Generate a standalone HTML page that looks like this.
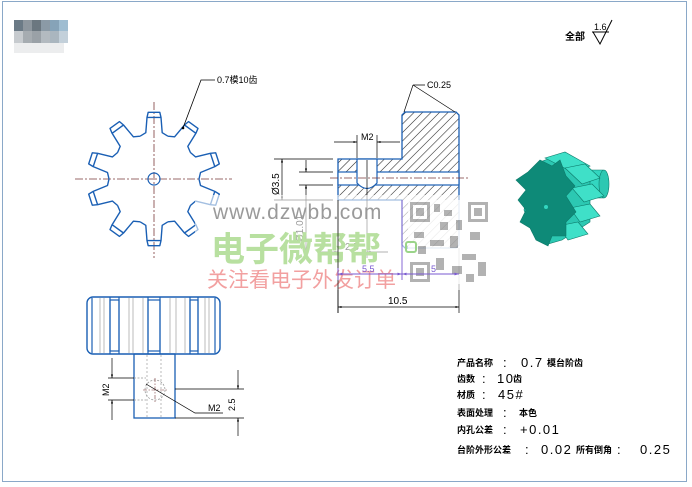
<!DOCTYPE html>
<html><head><meta charset="utf-8"><style>
html,body{margin:0;padding:0;background:#fff;}
svg{display:block;}
.t{font-family:"Liberation Sans","Noto Sans CJK SC",sans-serif;}
</style></head><body>
<svg id="s" width="692" height="487" viewBox="0 0 692 487" xmlns="http://www.w3.org/2000/svg">
<defs>
<pattern id="h" width="6" height="6" patternUnits="userSpaceOnUse" patternTransform="rotate(45)">
<line x1="0" y1="0" x2="0" y2="6" stroke="#222" stroke-width="1.1"/>
</pattern>
<marker id="a" viewBox="0 0 10 10" refX="10" refY="5" markerWidth="7" markerHeight="5" orient="auto-start-reverse"><path d="M0,2 L10,5 L0,8z" fill="#000"/></marker>
<marker id="ap" viewBox="0 0 10 10" refX="10" refY="5" markerWidth="7" markerHeight="5" orient="auto-start-reverse"><path d="M0,2 L10,5 L0,8z" fill="#7a5ad0"/></marker>
</defs>
<rect x="0" y="0" width="692" height="487" fill="#fff"/>
<rect x="2.5" y="1.5" width="684" height="480" fill="none" stroke="#8aa8c8" stroke-width="1"/>
<g>
<rect x="14" y="20" width="9" height="11" fill="#6b7a86"/><rect x="23" y="20" width="9" height="11" fill="#8d969e"/><rect x="32" y="20" width="9" height="11" fill="#6b7780"/><rect x="41" y="20" width="9" height="11" fill="#8b9aa6"/><rect x="50" y="20" width="9" height="11" fill="#86a3b8"/><rect x="59" y="20" width="9" height="11" fill="#9fbdd1"/>
<rect x="14" y="31" width="9" height="12" fill="#c7cbcf"/><rect x="23" y="31" width="9" height="12" fill="#a6acb1"/><rect x="32" y="31" width="9" height="12" fill="#9aa1a7"/><rect x="41" y="31" width="9" height="12" fill="#b3bac0"/><rect x="50" y="31" width="9" height="12" fill="#aab6bf"/><rect x="59" y="31" width="9" height="12" fill="#c3d0da"/>
<rect x="14" y="43" width="50" height="10" fill="#ecedee"/>
</g>
<text x="565" y="40" class="t" font-size="10" font-weight="bold">全部</text>
<text x="594" y="30" class="t" font-size="9">1.6</text>
<path d="M592,32 L609,32 M593,32 L600,44 L612,20" fill="none" stroke="#000" stroke-width="1"/>

<g stroke="#7a3a3a" stroke-width="0.8" stroke-dasharray="8,2,2,2" fill="none">
<line x1="75" y1="179" x2="232" y2="179"/><line x1="154" y1="102" x2="154" y2="258"/>
</g>
<path id="gear" fill="none" stroke="#1a5fb4" stroke-width="1.4" stroke-linejoin="round"/>
<circle cx="154" cy="179" r="6" fill="none" stroke="#1a5fb4" stroke-width="1.2"/>
<path d="M183,128 L201,80 L215,80" fill="none" stroke="#000" stroke-width="0.8"/>
<circle cx="183" cy="128" r="1.3" fill="#000"/>
<text x="217" y="83" class="t" font-size="9">0.7模10齿</text>

<path d="M338,159 L402,159 L402,115 L405,112 L456,112 L459,115 L459,245 L456,248 L405,248 L402,245 L402,200 L338,200 Z" fill="url(#h)" stroke="#1a5fb4" stroke-width="1.3"/>
<rect x="338" y="172" width="121" height="13" fill="#fff" stroke="#1a5fb4" stroke-width="1.2"/>
<path d="M357,159 L357,183 Q367,194 377,183 L377,159 Z" fill="#fff" stroke="#1a5fb4" stroke-width="1.2"/>
<line x1="330" y1="178" x2="468" y2="178" stroke="#7a3a3a" stroke-width="0.7" stroke-dasharray="8,2,2,2"/>
<line x1="367" y1="160" x2="367" y2="258" stroke="#000" stroke-width="0.7"/>
<g stroke="#000" stroke-width="0.7" fill="none">
<line x1="357" y1="135" x2="357" y2="158"/><line x1="377" y1="135" x2="377" y2="158"/>
<line x1="334" y1="142" x2="357" y2="142" marker-end="url(#a)"/><line x1="400" y1="142" x2="377" y2="142" marker-end="url(#a)"/>
<line x1="274" y1="159" x2="333" y2="159"/><line x1="274" y1="200" x2="333" y2="200"/>
<line x1="282" y1="159" x2="282" y2="200" marker-start="url(#a)" marker-end="url(#a)"/>
<line x1="299" y1="172" x2="333" y2="172"/><line x1="299" y1="185" x2="333" y2="185"/>
<line x1="306" y1="160" x2="306" y2="172" marker-end="url(#a)"/><line x1="306" y1="252" x2="306" y2="185" marker-end="url(#a)"/>
<line x1="338" y1="200" x2="338" y2="313"/><line x1="459" y1="248" x2="459" y2="313"/>
<line x1="317" y1="252" x2="338" y2="252" marker-end="url(#a)"/><line x1="388" y1="252" x2="367" y2="252" marker-end="url(#a)"/>
<line x1="338" y1="307" x2="459" y2="307" marker-start="url(#a)" marker-end="url(#a)"/>
<path d="M413,85 L404,112 M413,85 L455,112 M413,85 L425,85" />
</g>
<text x="427" y="88" class="t" font-size="9">C0.25</text>
<text x="361" y="140" class="t" font-size="9">M2</text>
<text x="345" y="250" class="t" font-size="10">2.5</text>
<text x="388" y="304" class="t" font-size="10">10.5</text>
<text transform="translate(279,195) rotate(-90)" class="t" font-size="10">Ø3.5</text>
<text transform="translate(303,242) rotate(-90)" class="t" font-size="10">Ø1.01</text>

<rect x="195" y="195" width="305" height="95" fill="#fff" opacity="0.6"/>
<g opacity="0.75">
<rect x="408" y="200" width="82" height="84" fill="#fff"/>
<g fill="#999">
<rect x="410" y="202" width="20" height="20"/><rect x="468" y="202" width="20" height="20"/><rect x="410" y="262" width="20" height="20"/>
<rect x="434" y="204" width="6" height="8"/><rect x="444" y="210" width="8" height="6"/><rect x="456" y="220" width="6" height="10"/><rect x="414" y="232" width="10" height="6"/><rect x="430" y="240" width="14" height="6"/><rect x="450" y="236" width="8" height="12"/><rect x="470" y="232" width="10" height="8"/><rect x="462" y="254" width="14" height="6"/><rect x="436" y="258" width="8" height="12"/><rect x="452" y="266" width="10" height="8"/><rect x="478" y="262" width="8" height="14"/><rect x="418" y="246" width="8" height="8"/><rect x="466" y="274" width="8" height="8"/><rect x="440" y="222" width="8" height="8"/>
</g>
<g fill="#fff"><rect x="413" y="205" width="14" height="14"/><rect x="471" y="205" width="14" height="14"/><rect x="413" y="265" width="14" height="14"/></g>
<g fill="#999"><rect x="416" y="208" width="8" height="8"/><rect x="474" y="208" width="8" height="8"/><rect x="416" y="268" width="8" height="8"/></g>
</g>
<text x="213" y="219" class="t" font-size="21" fill="#9a9a9a" letter-spacing="1">www.dzwbb.com</text>
<text x="211" y="261" class="t" font-size="34" fill="#b8e0a0" font-weight="bold">电子微帮帮</text>
<text x="207" y="287" class="t" font-size="21" fill="#f2a0a0">关注看电子外发订单</text>
<rect x="406" y="242" width="10" height="10" fill="none" stroke="#9bd48a" stroke-width="2" rx="2"/>
<line x1="338" y1="200" x2="338" y2="313" stroke="#000" stroke-width="0.7"/>
<line x1="338" y1="274" x2="402" y2="274" stroke="#7a5ad0" stroke-width="0.9" marker-start="url(#ap)" marker-end="url(#ap)"/>
<line x1="402" y1="274" x2="459" y2="274" stroke="#7a5ad0" stroke-width="0.9" marker-start="url(#ap)" marker-end="url(#ap)"/>
<line x1="402" y1="200" x2="402" y2="280" stroke="#7a5ad0" stroke-width="0.9"/>
<line x1="338" y1="268" x2="338" y2="280" stroke="#7a5ad0" stroke-width="0.9"/>
<text x="362" y="272" class="t" font-size="9" fill="#7a5ad0">5.5</text>
<text x="431" y="272" class="t" font-size="9" fill="#7a5ad0">5</text>

<g stroke="#0d7a6a" stroke-width="0.6">
<rect x="585" y="170" width="22" height="28" rx="4" fill="#33d6c0"/>
<ellipse cx="604" cy="184" rx="5" ry="14" fill="#2cc8b2"/>
<path d="M540,162 L556,156 L584,168 L590,178 L590,222 L562,240 L548,244 L532,232 L524,210 L530,180 Z" fill="#2cc8b2"/>
<g fill="#3fe0c8">
<path d="M545,158 L565,152 L590,166 L572,172 Z"/>
<path d="M565,168 L585,164 L600,178 L582,184 Z"/>
<path d="M572,188 L592,184 L604,196 L584,202 Z"/>
<path d="M570,208 L590,204 L600,216 L580,222 Z"/>
<path d="M558,226 L578,222 L588,234 L568,240 Z"/>
</g>
<path d="M528,172 L540,160 L552,166 L560,160 L566,176 L575,186 L566,196 L576,212 L566,222 L566,236 L552,236 L548,246 L536,240 L530,228 L520,222 L526,210 L518,200 L526,190 L516,180 Z" fill="#0e8a78"/>
<circle cx="546" cy="207" r="2" fill="#33d6c0" stroke="none"/>
</g>

<rect x="87" y="297" width="133" height="57" rx="6" fill="#fff" stroke="#1a5fb4" stroke-width="1.4"/>
<g stroke="#1a5fb4" stroke-width="1.2" fill="none">
<line x1="92" y1="298" x2="92" y2="353"/><line x1="215" y1="298" x2="215" y2="353"/>
<rect x="110" y="300" width="9" height="51"/><rect x="148" y="300" width="12" height="51"/><rect x="190" y="300" width="8" height="51"/>
<line x1="110" y1="297" x2="110" y2="354"/><line x1="119" y1="297" x2="119" y2="354"/><line x1="148" y1="297" x2="148" y2="354"/><line x1="160" y1="297" x2="160" y2="354"/><line x1="190" y1="297" x2="190" y2="354"/><line x1="198" y1="297" x2="198" y2="354"/>
</g>
<g stroke="#aaa" stroke-width="0.8">
<line x1="100" y1="298" x2="100" y2="353"/><line x1="104" y1="298" x2="104" y2="353"/><line x1="129" y1="298" x2="129" y2="353"/><line x1="133" y1="298" x2="133" y2="353"/><line x1="143" y1="298" x2="143" y2="353"/><line x1="170" y1="298" x2="170" y2="353"/><line x1="176" y1="298" x2="176" y2="353"/><line x1="185" y1="298" x2="185" y2="353"/><line x1="205" y1="298" x2="205" y2="353"/><line x1="209" y1="298" x2="209" y2="353"/>
<line x1="147" y1="355" x2="147" y2="418" stroke-dasharray="2,2"/><line x1="161" y1="355" x2="161" y2="418" stroke-dasharray="2,2"/>
</g>
<rect x="134" y="354" width="41" height="64" fill="none" stroke="#1a5fb4" stroke-width="1.3"/>
<circle cx="155" cy="390" r="10" fill="none" stroke="#999" stroke-width="0.8" stroke-dasharray="2,1.5"/>
<path d="M134,378 L146,378 M134,400 L146,400" stroke="#999" stroke-width="0.8" stroke-dasharray="2,1.5"/>
<g stroke="#7a3a3a" stroke-width="0.6" stroke-dasharray="4,1.5,1.5,1.5"><line x1="143" y1="390" x2="167" y2="390"/><line x1="155" y1="378" x2="155" y2="402"/></g>
<g stroke="#000" stroke-width="0.7" fill="none">
<line x1="108" y1="378" x2="134" y2="378"/><line x1="108" y1="400" x2="134" y2="400"/>
<line x1="112" y1="358" x2="112" y2="378" marker-end="url(#a)"/><line x1="112" y1="420" x2="112" y2="400" marker-end="url(#a)"/>
<line x1="175" y1="389" x2="244" y2="389"/><line x1="175" y1="418" x2="244" y2="418"/>
<line x1="238" y1="370" x2="238" y2="389" marker-end="url(#a)"/><line x1="238" y1="436" x2="238" y2="418" marker-end="url(#a)"/>
<path d="M146,384 L195,413 L223,413"/>
</g>
<text x="208" y="411" class="t" font-size="9">M2</text>
<text transform="translate(109,396) rotate(-90)" class="t" font-size="9">M2</text>
<text transform="translate(235,411) rotate(-90)" class="t" font-size="9">2.5</text>

<g class="t" font-size="9" font-weight="bold">
<text x="457" y="366">产品名称</text><text x="457" y="382">齿数</text><text x="457" y="398">材质</text><text x="457" y="416">表面处理</text><text x="457" y="433">内孔公差</text><text x="457" y="453">台阶外形公差</text>
</g>
<g class="t" font-size="13">
<text x="503" y="367">:</text><text x="482" y="383">:</text><text x="482" y="399">:</text><text x="503" y="417">:</text><text x="503" y="434">:</text><text x="525" y="454">:</text><text x="617" y="454">:</text>
</g>
<g class="t" font-size="13" letter-spacing="1.5">
<text x="521" y="367">0.7</text><text x="497" y="383">10</text><text x="498" y="399">45#</text><text x="520" y="434">+0.01</text><text x="541" y="454">0.02</text><text x="640" y="454">0.25</text>
</g>
<g class="t" font-size="9" font-weight="bold">
<text x="547" y="366">模台阶齿</text><text x="513" y="382">齿</text><text x="519" y="416">本色</text><text x="576" y="453">所有倒角</text>
</g>
</svg>
<script>
(function(){
var cx=154,cy=179,Ro=67,Rr=45,n=10,d="";
function p(r,a){return (cx+r*Math.sin(a)).toFixed(1)+","+(cy-r*Math.cos(a)).toFixed(1);}
var deg=Math.PI/180;
for(var i=0;i<n;i++){
 var c=i*36*deg;
 var pts=[[Rr,c-18*deg],[Rr+2,c-10*deg],[Ro-5,c-6.5*deg],[Ro,c-5*deg],[Ro,c+5*deg],[Ro-5,c+6.5*deg],[Rr+2,c+10*deg],[Rr,c+18*deg]];
 for(var j=0;j<pts.length;j++){d+=(i==0&&j==0?"M":"L")+p(pts[j][0],pts[j][1])+" ";}
 d+="M"+p(Ro-5,c-6.5*deg)+" L"+p(Ro-5,c+6.5*deg)+" M"+p(Rr,c+18*deg)+" ";
}
document.getElementById("gear").setAttribute("d",d);
})();
</script>
</body></html>
